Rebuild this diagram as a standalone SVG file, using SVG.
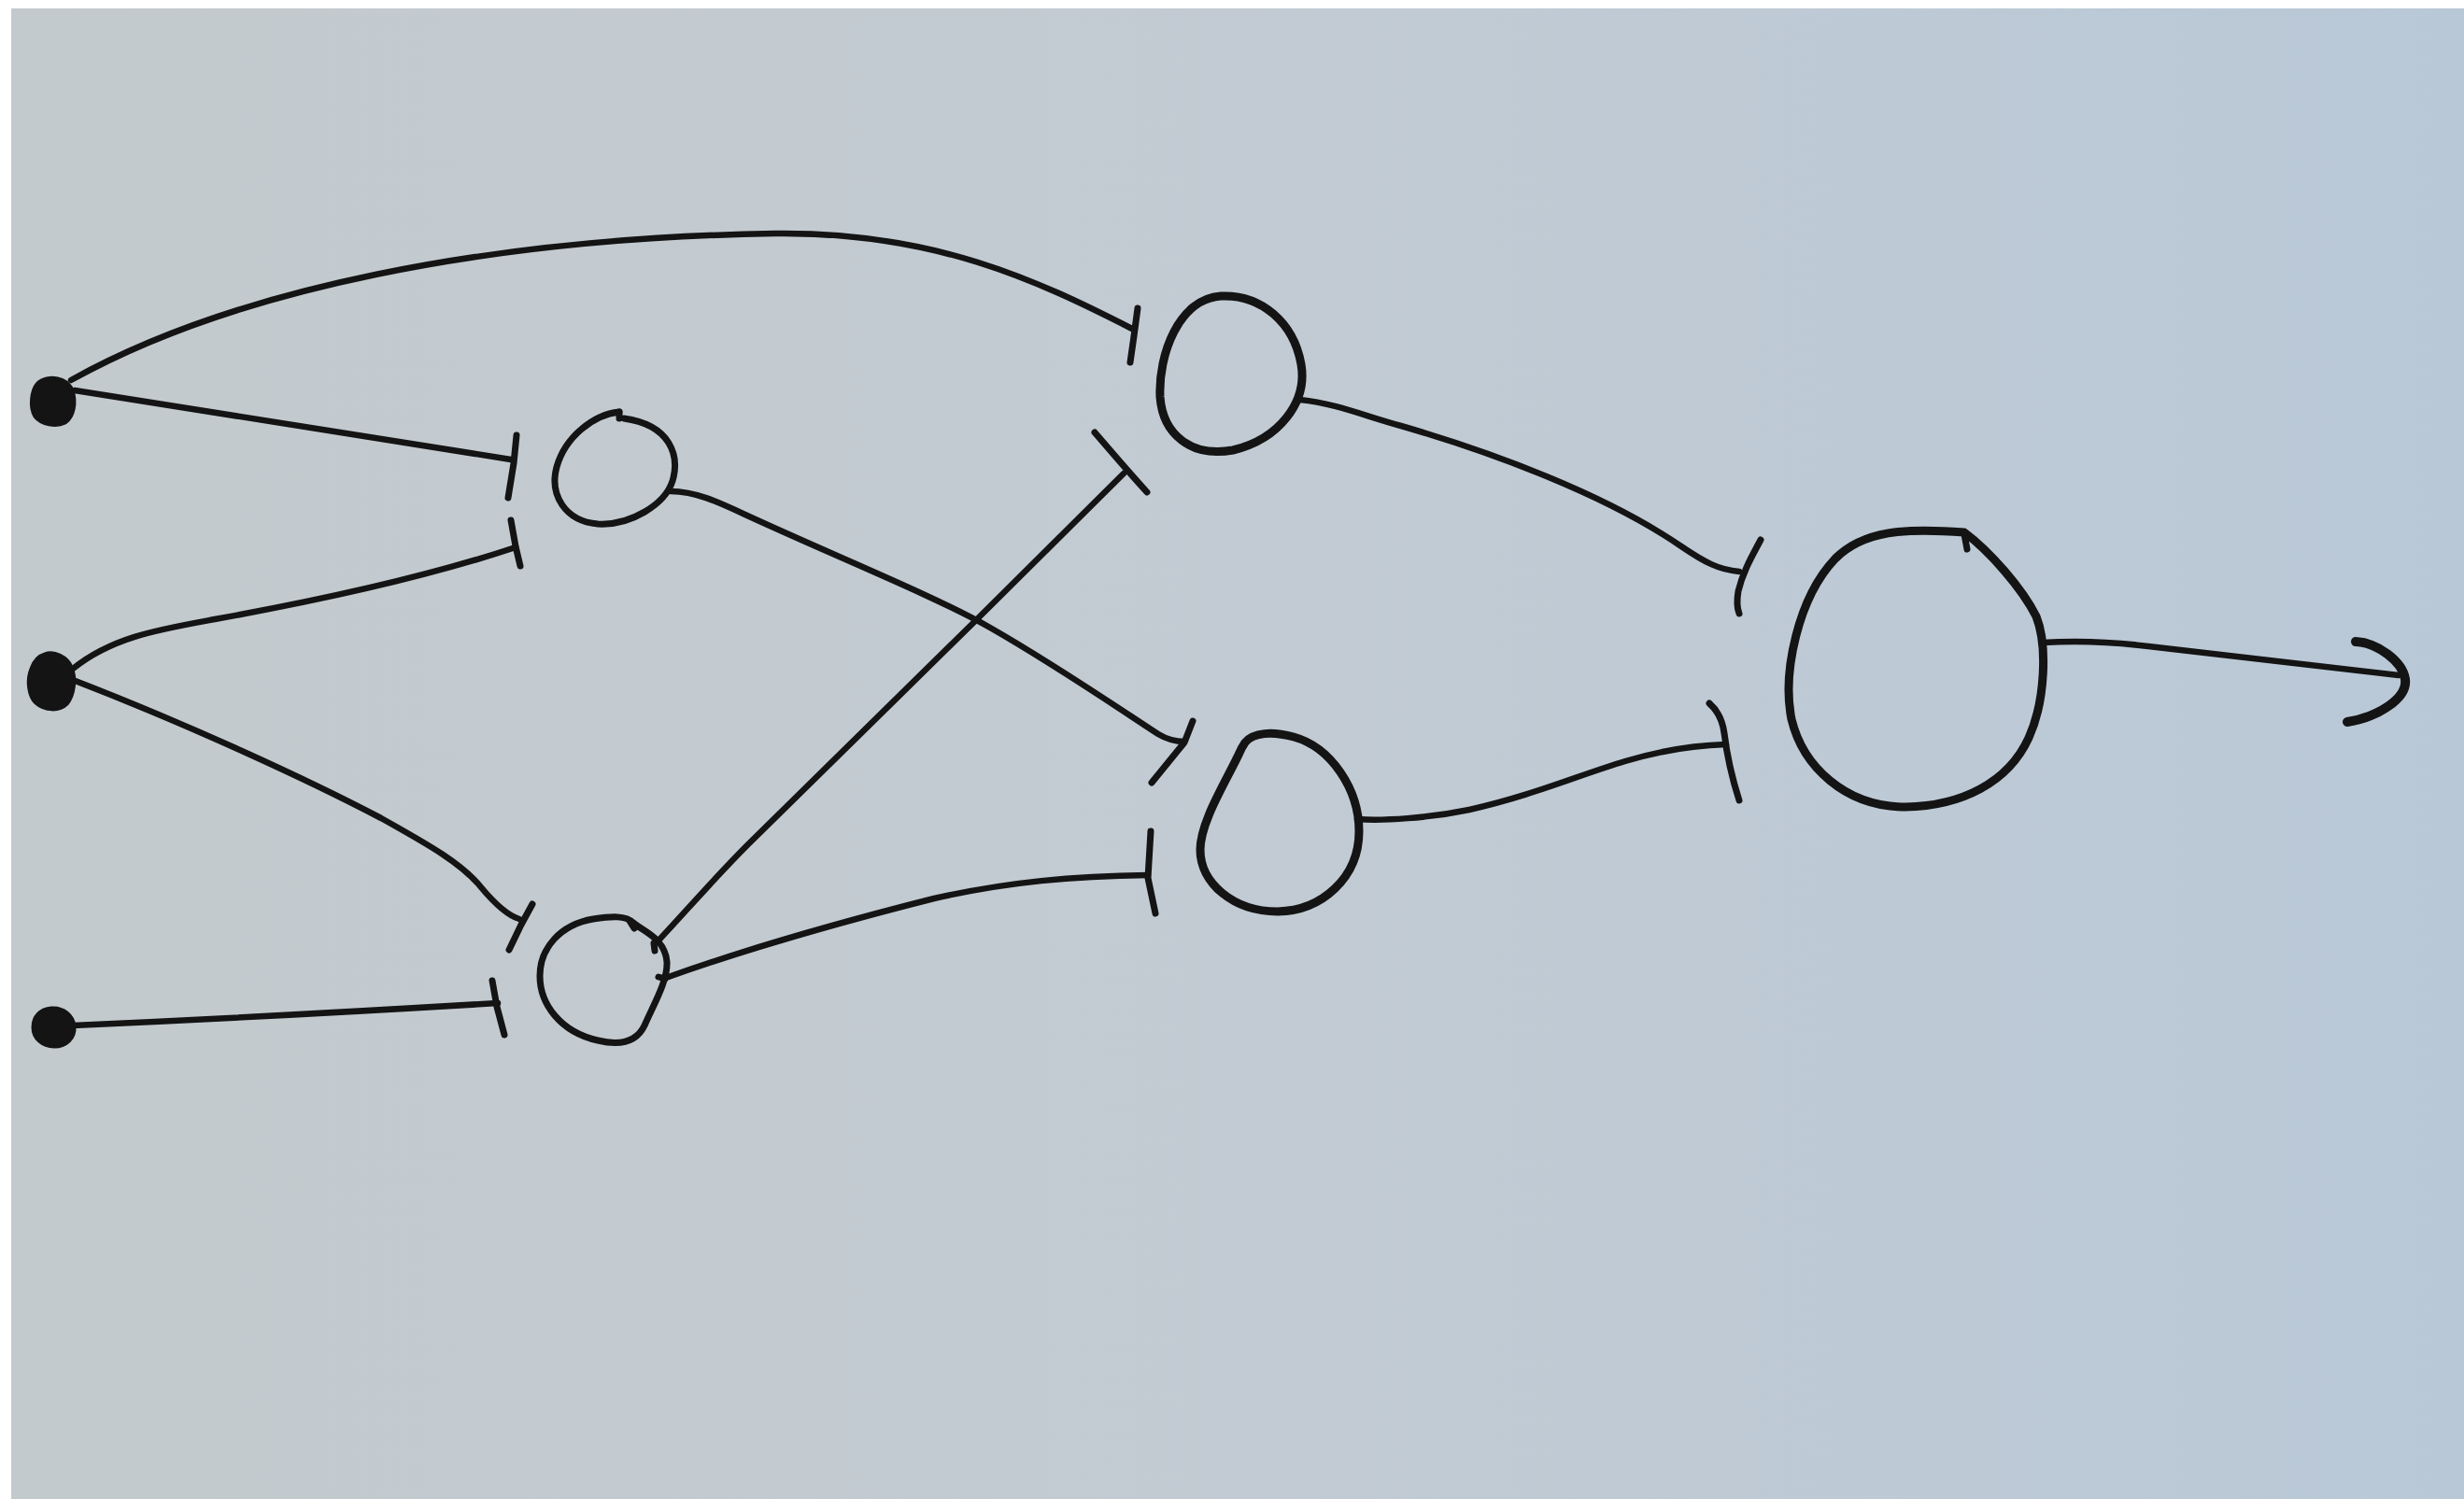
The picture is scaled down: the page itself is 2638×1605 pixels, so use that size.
<svg xmlns="http://www.w3.org/2000/svg" width="2638" height="1605" viewBox="0 0 2638 1605">
<defs>
<linearGradient id="bg" x1="0" y1="0" x2="1" y2="0">
<stop offset="0" stop-color="#c3cacd"/>
<stop offset="0.5" stop-color="#c2cbd3"/>
<stop offset="1" stop-color="#b9c8d7"/>
</linearGradient>
<style>
.edge{fill:none;stroke:#141414;stroke-width:6.5;stroke-linecap:round;stroke-linejoin:round}
.bar{fill:none;stroke:#141414;stroke-width:7;stroke-linecap:round;stroke-linejoin:round}
.head{fill:none;stroke:#141414;stroke-width:10;stroke-linecap:round;stroke-linejoin:round}
.ns{fill:none;stroke:#141414;stroke-width:7;stroke-linecap:round;stroke-linejoin:round}
.nl{fill:none;stroke:#141414;stroke-width:9;stroke-linecap:round;stroke-linejoin:round}
.dot{fill:#141414;stroke:#141414;stroke-width:3}
</style>
</defs>
<rect x="0" y="0" width="2638" height="1605" fill="#ffffff"/>
<rect x="12" y="9" width="2626" height="1596" fill="url(#bg)"/>

<g id="connectors">
<!-- input 1 to hidden2 top (long arc) -->
<path class="edge" d="M 76 407 C 250 310, 520 255, 830 250 C 1000 248, 1110 300, 1212 352"/>
<path class="bar" d="M 1218 330 L 1214 360 L 1210 388"/>
<!-- input 1 to hidden1 top -->
<path class="edge" d="M 80 418 L 547 492"/>
<path class="bar" d="M 553 466 L 550 496 L 544 533"/>
<!-- input 2 to hidden1 top (lower bar) -->
<path class="edge" d="M 78 716 C 120 682, 170 674, 230 663 C 330 645, 450 620, 552 586"/>
<path class="bar" d="M 547 557 L 552 585 L 557 606"/>
<!-- input 2 to hidden1 bottom -->
<path class="edge" d="M 78 728 C 200 775, 330 835, 408 876 C 460 905, 495 925, 515 950 C 530 968, 543 980, 556 984"/>
<path class="bar" d="M 570 968 L 558 990 L 545 1017"/>
<!-- input 3 to hidden1 bottom -->
<path class="edge" d="M 78 1098 Q 300 1088 533 1074"/>
<path class="bar" d="M 527 1050 L 532 1078 L 540 1108"/>
<!-- hidden1 top to hidden2 bottom -->
<path class="edge" d="M 718 526 C 745 526, 770 538, 800 552 C 900 598, 1000 638, 1060 672 C 1130 712, 1200 760, 1240 786 C 1250 792, 1258 794, 1268 794"/>
<path class="bar" d="M 1277 772 L 1268 795 L 1233 838"/>
<!-- hidden1 bottom to hidden2 top -->
<path class="edge" d="M 705 1007 C 735 975, 765 940, 800 905 L 1045 664 L 1203 507"/>
<path class="bar" d="M 1172 463 C 1185 478, 1200 496, 1228 527"/>
<!-- hidden1 bottom to hidden2 bottom -->
<path class="edge" d="M 710 1048 C 760 1030, 850 1000, 1000 962 C 1080 944, 1150 938, 1229 937"/>
<path class="bar" d="M 1232 890 L 1229 940 L 1237 978"/>
<!-- hidden2 top to output -->
<path class="edge" d="M 1392 428 C 1430 432, 1460 445, 1500 456 C 1600 485, 1720 530, 1800 585 C 1825 602, 1840 610, 1862 612"/>
<path class="bar" d="M 1885 578 C 1876 595, 1866 612, 1861 633 C 1859 645, 1860 652, 1862 657"/>
<!-- hidden2 bottom to output -->
<path class="edge" d="M 1453 877 C 1480 879, 1530 876, 1573 867 C 1640 852, 1690 830, 1740 815 C 1780 803, 1815 798, 1848 797"/>
<path class="bar" d="M 1830 753 C 1838 760, 1844 770, 1846 785 C 1849 810, 1855 835, 1862 857"/>
<!-- output arrow -->
<path class="edge" d="M 2187 688 C 2220 686, 2260 687, 2300 692 L 2568 723"/>
<path class="head" d="M 2522 687 C 2545 688, 2572 708, 2575 727 C 2578 748, 2545 768, 2513 773"/>
</g>

<g id="input1">
<path class="dot" d="M 50 405 C 62 402, 74 408, 78 418 C 82 430, 80 446, 70 453 C 60 458, 44 455, 37 446 C 31 436, 33 418, 40 410 C 43 407, 46 406, 50 405 Z"/>
</g>
<g id="input2">
<path class="dot" d="M 48 700 C 58 696, 72 703, 77 714 C 82 726, 80 744, 72 754 C 64 762, 48 762, 38 753 C 30 745, 28 728, 33 716 C 36 707, 41 702, 48 700 Z"/>
</g>
<g id="input3">
<path class="dot" d="M 55 1079 C 68 1078, 79 1087, 80 1099 C 81 1112, 71 1121, 58 1121 C 45 1121, 35 1112, 35 1100 C 35 1088, 43 1080, 55 1079 Z"/>
</g>

<g id="hidden1-top">
<path class="ns" d="M 663 441 C 635 444, 605 468, 596 500 C 588 530, 605 558, 640 561 C 675 563, 712 540, 720 515 C 728 488, 718 455, 668 448"/>
<path class="ns" d="M 663 441 L 663 448"/>
</g>
<g id="hidden1-bottom">
<path class="ns" d="M 578 1045 C 578 1015, 600 990, 635 984 C 655 981, 670 980, 678 988 C 690 998, 712 1005, 714 1030 C 715 1050, 700 1075, 690 1098 C 682 1115, 665 1120, 640 1114 C 600 1105, 578 1075, 578 1045 Z"/>
<path class="ns" d="M 674 986 L 679 994"/>
<path class="ns" d="M 700 1010 L 701 1018"/>
<path class="ns" d="M 705 1046 L 712 1048"/>
</g>
<g id="hidden2-top">
<path class="nl" d="M 1307 317 C 1350 315, 1385 345, 1393 390 C 1400 430, 1370 470, 1320 482 C 1275 490, 1245 465, 1242 425 C 1240 380, 1262 320, 1307 317 Z"/>
</g>
<g id="hidden2-bottom">
<path class="nl" d="M 1333 795 C 1342 784, 1362 783, 1385 789 C 1425 800, 1455 845, 1455 890 C 1455 940, 1415 975, 1368 976 C 1320 976, 1285 945, 1285 910 C 1285 880, 1312 838, 1327 806 C 1329 801, 1331 798, 1333 795 Z"/>
</g>
<g id="output">
<path class="nl" d="M 2103 570 C 2130 590, 2165 630, 2180 660 C 2192 690, 2190 750, 2172 790 C 2150 838, 2100 863, 2040 864 C 1975 864, 1930 820, 1918 770 C 1908 720, 1925 640, 1965 598 C 1995 568, 2040 565, 2103 570 Z"/>
<path class="ns" d="M 2103 572 L 2106 588"/>
</g>
</svg>
